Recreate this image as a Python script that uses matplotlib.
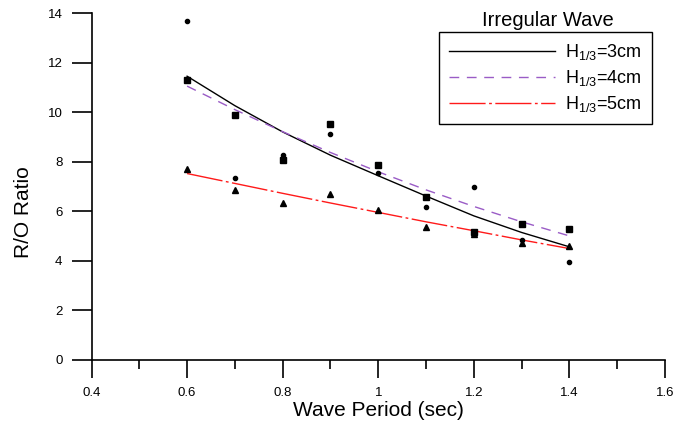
import numpy as np
import matplotlib
matplotlib.use("Agg")
import matplotlib.pyplot as plt

plt.rcParams['font.family'] = ['Liberation Sans', 'DejaVu Sans']
plt.rcParams['mathtext.fontset'] = 'custom'
plt.rcParams['mathtext.rm'] = 'Liberation Sans'
plt.rcParams['mathtext.it'] = 'Liberation Sans:italic'

# wave period (sec)
period = [0.6, 0.7, 0.8, 0.9, 1.0, 1.1, 1.2, 1.3, 1.4]

# measured R/O ratio
ro_3cm = [13.67, 7.35, 8.29, 9.12, 7.57, 6.18, 7.00, 4.84, 3.96]
ro_4cm = [11.29, 9.88, 8.06, 9.53, 7.86, 6.57, 5.17, 5.48, 5.27]
ro_5cm = [7.70, 6.88, 6.33, 6.72, 6.06, 5.39, 5.10, 4.74, 4.60]

# fitted curves
fit_3cm = [11.46, 10.27, 9.21, 8.27, 7.44, 6.62, 5.82, 5.15, 4.57]
fit_4cm = [11.06, 10.11, 9.22, 8.38, 7.60, 6.87, 6.20, 5.58, 5.01]
fit_5cm = [7.53, 7.13, 6.73, 6.34, 5.96, 5.58, 5.22, 4.85, 4.50]

labels = [r'H$_{\mathregular{1/3}}$=3cm', r'H$_{\mathregular{1/3}}$=4cm', r'H$_{\mathregular{1/3}}$=5cm']
xtick_vals = [0.4, 0.6, 0.8, 1.0, 1.2, 1.4, 1.6]
xtick_labels = ['0.4', '0.6', '0.8', '1', '1.2', '1.4', '1.6']

fig = plt.figure(figsize=(6.89, 4.29), dpi=100)
ax = fig.add_axes([91.5/689, 1-360/429, (665-91.5)/689, (360-13.3)/429])

l1, = ax.plot(period, fit_3cm, color='black', lw=1.0, ls='-')
l2, = ax.plot(period, fit_4cm, color='#9a5cc6', lw=1.0, ls=(0, (7, 5.5)))
l3, = ax.plot(period, fit_5cm, color='#ff1a1a', lw=1.0, ls=(0, (26, 2.5, 2, 2.5)))

ax.plot(period, ro_3cm, ls='', marker='o', ms=3.0, color='black')
ax.plot(period, ro_4cm, ls='', marker='s', ms=3.8, color='black')
ax.plot(period, ro_5cm, ls='', marker='^', ms=4.0, color='black')

ax.set_xlim(0.4, 1.6)
ax.set_ylim(0, 14)
ax.set_xticks(xtick_vals)
ax.set_xticklabels(xtick_labels)
ax.set_xticks(np.arange(0.5, 1.6, 0.2), minor=True)
ax.set_yticks(range(0, 15, 2))

for s in ['top', 'right']:
    ax.spines[s].set_visible(False)
for s in ['left', 'bottom']:
    ax.spines[s].set_linewidth(1.2)

ax.tick_params(axis='x', which='major', length=12.7, width=1.2, pad=7, labelsize=9.5)
ax.tick_params(axis='x', which='minor', length=6.5, width=1.2)
ax.tick_params(axis='y', which='major', length=14.4, width=1.2, pad=6.5, labelsize=9.5)

ax.set_xlabel('Wave Period (sec)', fontsize=15)
ax.set_ylabel('R/O Ratio', fontsize=15)
ax.xaxis.set_label_coords(0.5, -0.118)
ax.yaxis.set_label_coords(-0.102, 0.427)

leg = ax.legend([l1, l2, l3], labels, loc='upper left',
                bbox_to_anchor=(439/689, 1-32/429), bbox_transform=fig.transFigure,
                borderaxespad=0, fontsize=13, handlelength=5.9, handletextpad=0.55,
                borderpad=0.55, labelspacing=0.33, fancybox=False, framealpha=1)
leg.get_frame().set_edgecolor('black')
leg.get_frame().set_linewidth(1.0)

fig.text(548/689, 1-21/429, 'Irregular Wave', ha='center', va='center', fontsize=14.5)

fig.savefig('out.png', dpi=100)
